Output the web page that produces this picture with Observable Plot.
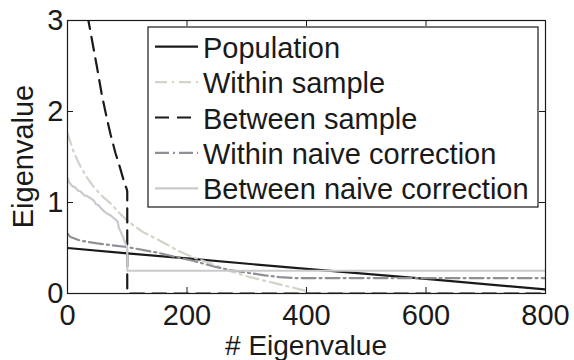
<!DOCTYPE html>
<html><head><meta charset="utf-8">
<script src="https://cdn.jsdelivr.net/npm/d3@7"></script>
<script src="https://cdn.jsdelivr.net/npm/@observablehq/plot@0.6"></script>
<style>body{margin:0;background:#fff;} svg{display:block;}</style>
</head><body><div id="chart"></div>
<script>
// ---- data ----
const xTicks = [0, 200, 400, 600, 800];
const yTicks = [0, 1, 2, 3];
const xLabel = "# Eigenvalue";
const yLabel = "Eigenvalue";

const seriesNames = ["Population", "Within sample", "Between sample", "Within naive correction", "Between naive correction"];

const popX = [0, 100, 200, 400, 600, 800];
const popY = [0.50, 0.44, 0.385, 0.27, 0.16, 0.045];

const withinSampleX = [0, 5, 10, 22, 33, 44, 58, 72, 86, 100, 125, 155, 185, 210, 243, 270, 300, 330, 355, 380, 398, 400, 800];
const withinSampleY = [1.76, 1.66, 1.56, 1.39, 1.27, 1.17, 1.07, 0.99, 0.89, 0.80, 0.68, 0.58, 0.47, 0.40, 0.32, 0.25, 0.19, 0.14, 0.10, 0.06, 0.03, 0, 0];

const betweenSampleX = [30, 35, 42, 49, 57, 65, 72, 80, 88, 95, 99, 100, 100, 800];
const betweenSampleY = [3.3, 3.0, 2.75, 2.5, 2.2, 1.95, 1.75, 1.55, 1.38, 1.22, 1.15, 1.12, 0, 0];

const withinNaiveX = [0, 5, 22, 50, 100, 150, 188, 210, 243, 270, 300, 330, 355, 380, 800];
const withinNaiveY = [0.66, 0.62, 0.58, 0.55, 0.51, 0.45, 0.39, 0.36, 0.30, 0.26, 0.23, 0.20, 0.18, 0.17, 0.17];

const betweenNaiveX = [0, 3, 8, 12, 18, 22, 28, 33, 38, 44, 48, 52, 57, 62, 66, 72, 77, 81, 84, 86, 89, 93, 97, 99, 100, 100, 800];
const betweenNaiveY = [1.27, 1.22, 1.18, 1.17, 1.13, 1.12, 1.08, 1.07, 1.05, 1.02, 0.98, 0.97, 0.93, 0.90, 0.88, 0.86, 0.83, 0.81, 0.79, 0.72, 0.68, 0.62, 0.55, 0.52, 0.50, 0.25, 0.25];

// ---- styles ----
const styles = [
  {stroke: "#1a1a1a", strokeWidth: 2.2, dash: null},
  {stroke: "#d5d2c9", strokeWidth: 2.2, dash: "12,5,2,5"},
  {stroke: "#1a1a1a", strokeWidth: 2.2, dash: "14,8"},
  {stroke: "#8f9095", strokeWidth: 2.2, dash: "14,4,2,4"},
  {stroke: "#c9cacc", strokeWidth: 2.2, dash: null}
];
const seriesXY = [
  [popX, popY], [withinSampleX, withinSampleY], [betweenSampleX, betweenSampleY],
  [withinNaiveX, withinNaiveY], [betweenNaiveX, betweenNaiveY]
];

const W = 574, H = 360;
const mL = 67, mR = 29, mT = 20, mB = 67;
const plotW = W - mL - mR, plotH = H - mT - mB;
const font = "'Liberation Sans', Arial, Helvetica, sans-serif";

const lineMarks = seriesXY.map(([xs, ys], i) =>
  Plot.line(ys, {x: xs, y: ys, stroke: styles[i].stroke, strokeWidth: styles[i].strokeWidth,
    strokeDasharray: styles[i].dash, clip: true, curve: "linear"}));

const chart = Plot.plot({
  width: W, height: H,
  marginLeft: mL, marginRight: mR, marginTop: mT, marginBottom: mB,
  style: {fontFamily: font, fontSize: "29px", color: "#1a1a1a", background: "#fff"},
  x: {domain: [0, 800]},
  y: {domain: [0, 3]},
  marks: [
    ...lineMarks,
    Plot.ruleX(xTicks, {x: d => d, insetTop: plotH - 6, stroke: "#1a1a1a"}),
    Plot.ruleX(xTicks, {x: d => d, insetBottom: plotH - 6, stroke: "#1a1a1a"}),
    Plot.ruleY(yTicks, {y: d => d, insetRight: plotW - 6, stroke: "#1a1a1a"}),
    Plot.ruleY(yTicks, {y: d => d, insetLeft: plotW - 6, stroke: "#1a1a1a"}),
    Plot.frame({stroke: "#1a1a1a", strokeWidth: 1.2}),
    Plot.axisX({ticks: xTicks, tickFormat: d3.format("d"), tickSize: 0, tickPadding: 11, label: null, fill: "#1a1a1a"}),
    Plot.axisY({ticks: yTicks, tickFormat: d3.format("d"), tickSize: 0, tickPadding: 4, label: null, fill: "#1a1a1a"})
  ]
});

const svg = d3.select(chart);
// axis labels
svg.append("text").attr("x", (mL + W - mR) / 2).attr("y", 355)
  .attr("text-anchor", "middle").attr("fill", "#1a1a1a").style("font-size", "28px").text(xLabel);
svg.append("text").attr("transform", `translate(33,${(mT + H - mB) / 2}) rotate(-90)`)
  .attr("text-anchor", "middle").attr("fill", "#1a1a1a").style("font-size", "29px").text(yLabel);

// legend
const lg = svg.append("g");
lg.append("rect").attr("x", 148).attr("y", 27).attr("width", 390).attr("height", 180)
  .attr("fill", "#fff").attr("stroke", "#1a1a1a").attr("stroke-width", 1.2);
seriesNames.forEach((name, i) => {
  const cy = 46.7 + i * 35.4;
  lg.append("line").attr("x1", 155).attr("x2", 198).attr("y1", cy).attr("y2", cy)
    .attr("stroke", styles[i].stroke).attr("stroke-width", styles[i].strokeWidth)
    .attr("stroke-dasharray", styles[i].dash);
  lg.append("text").attr("x", 203).attr("y", cy + 11).attr("fill", "#1a1a1a")
    .attr("text-anchor", "start").style("font-size", "29px").text(name);
});

document.getElementById("chart").appendChild(chart);
</script></body></html>
